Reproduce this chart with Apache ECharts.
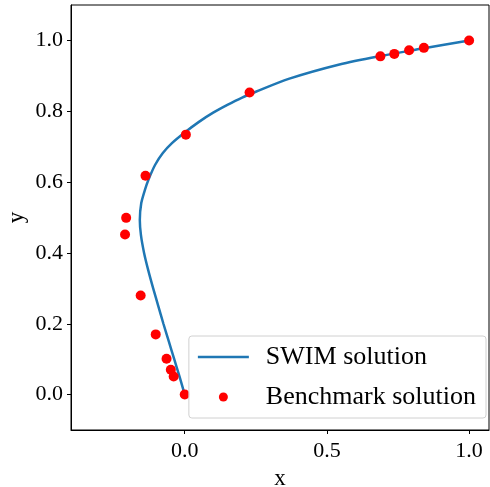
<!DOCTYPE html>
<html><head><meta charset="utf-8">
<script src="https://cdn.jsdelivr.net/npm/echarts@6/dist/echarts.min.js"></script>
<style>html,body{margin:0;padding:0;background:#fff}#c{width:490px;height:487px}</style>
</head><body><div id="c"></div>
<script>
// SWIM solution curve (x, y)
const swimX = [0.000, -0.018, -0.037, -0.056, -0.075, -0.093, -0.111, -0.128, -0.143, -0.154, -0.158, -0.153, -0.140, -0.128, -0.104, -0.077, -0.045, 0.000, 0.050, 0.100, 0.150, 0.200, 0.250, 0.368, 0.544, 0.688, 0.836, 1.000];
const swimY = [0.000, 0.050, 0.100, 0.150, 0.200, 0.250, 0.300, 0.350, 0.400, 0.450, 0.493, 0.540, 0.578, 0.606, 0.649, 0.682, 0.710, 0.740, 0.770, 0.796, 0.818, 0.838, 0.855, 0.892, 0.932, 0.956, 0.977, 1.000];
// Benchmark solution points
const benchX = [0.000, -0.039, -0.049, -0.064, -0.102, -0.155, -0.210, -0.206, -0.138, 0.004, 0.228, 0.688, 0.737, 0.789, 0.841, 1.000];
const benchY = [0.000, 0.051, 0.070, 0.101, 0.170, 0.280, 0.452, 0.499, 0.618, 0.734, 0.853, 0.955, 0.962, 0.972, 0.979, 1.000];
const xTicks = [0.0, 0.5, 1.0];
const yTicks = [0.0, 0.2, 0.4, 0.6, 0.8, 1.0];

const FONT = 'Liberation Serif';
const chart = echarts.init(document.getElementById('c'), null, {renderer: 'canvas'});
chart.setOption({
  animation: false,
  grid: {left: 71, top: 5, right: 1, bottom: 57, show: true, borderColor: '#000', borderWidth: 1,
    containLabel: false, outerBoundsMode: 'none'},
  xAxis: {
    type: 'value', min: -0.4, max: 1.07,
    name: 'x', nameLocation: 'middle', nameGap: 37,
    nameTextStyle: {fontFamily: FONT, fontSize: 23, color: '#000'},
    axisLine: {onZero: false, lineStyle: {color: '#000', width: 1}},
    axisTick: {show: true, length: 4, customValues: xTicks, lineStyle: {color: '#000'}},
    axisLabel: {customValues: xTicks, fontFamily: FONT, fontSize: 22, color: '#000', margin: 10,
      formatter: v => v.toFixed(1)},
    splitLine: {show: false}
  },
  yAxis: {
    type: 'value', min: -0.1, max: 1.1,
    name: 'y', nameLocation: 'middle', nameGap: 43, nameMoveOverlap: false,
    nameTextStyle: {fontFamily: FONT, fontSize: 23, color: '#000'},
    axisLine: {onZero: false, lineStyle: {color: '#000', width: 1}},
    axisTick: {show: true, length: 4, customValues: yTicks, lineStyle: {color: '#000'}},
    axisLabel: {customValues: yTicks, fontFamily: FONT, fontSize: 22, color: '#000', margin: 8,
      formatter: v => v.toFixed(1)},
    splitLine: {show: false}
  },
  legend: {
    right: 4, bottom: 69, orient: 'vertical',
    backgroundColor: 'rgba(255,255,255,0.8)', borderColor: '#d0d0d0', borderWidth: 1, borderRadius: 3,
    padding: [8, 10, 8, 9], itemGap: 14, itemWidth: 51, itemHeight: 9,
    textStyle: {fontFamily: FONT, fontSize: 26, color: '#000', padding: [0, 0, 0, 12]},
    data: [
      {name: 'SWIM solution', icon: 'path://M0 0 H51 V2.5 H0 Z'},
      {name: 'Benchmark solution', icon: 'circle'}
    ]
  },
  series: [
    {name: 'SWIM solution', type: 'line', smooth: 0.3, showSymbol: false, symbol: 'none',
      lineStyle: {color: '#1f77b4', width: 2.5}, itemStyle: {color: '#1f77b4'},
      data: swimX.map((x, i) => [x, swimY[i]]), z: 2},
    {name: 'Benchmark solution', type: 'scatter', symbol: 'circle', symbolSize: 10,
      itemStyle: {color: '#ff0000', opacity: 1}, data: benchX.map((x, i) => [x, benchY[i]]), z: 3}
  ]
});
</script></body></html>
